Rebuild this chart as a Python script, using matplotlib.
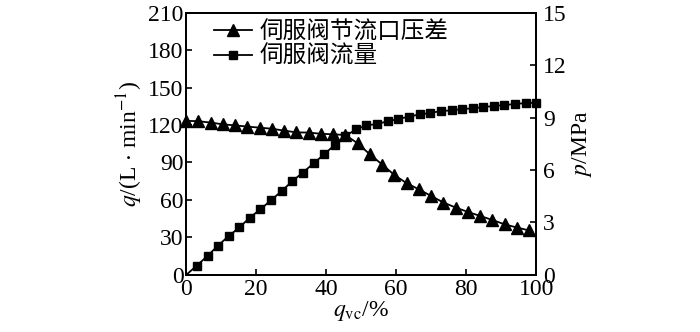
# Servo valve flow and pressure-drop vs opening
import matplotlib.pyplot as plt

plt.rcParams['font.family'] = ['Liberation Serif', 'Noto Sans CJK SC']
plt.rcParams['mathtext.fontset'] = 'stix'

# flow (left axis, L/min)
flow_x = [0, 3.0, 6.1, 9.1, 12.1, 15.2, 18.2, 21.2, 24.2, 27.3, 30.3, 33.3, 36.4,
          39.4, 42.4, 45.5, 48.5, 51.5, 54.5, 57.6, 60.6, 63.6, 66.7, 69.7,
          72.7, 75.8, 78.8, 81.8, 84.8, 87.9, 90.9, 93.9, 97.0, 100.0]
flow_q = [0, 7.4, 15.2, 23.5, 31.0, 38.0, 45.9, 52.5, 59.7, 67.2, 75.0, 81.9, 89.3,
          96.5, 104.0, 111.2, 116.5, 119.7, 120.8, 123.0, 124.8, 126.7,
          128.5, 129.6, 131.2, 131.7, 132.8, 133.3, 134.4, 135.2, 136.0,
          136.8, 137.6, 137.8]

# pressure drop (right axis, MPa)
dp_x = [0, 3.5, 7, 10.5, 14, 17.5, 21, 24.5, 28, 31.5, 35, 38.5, 42, 45.5,
        49, 52.5, 56, 59.5, 63, 66.5, 70, 73.5, 77, 80.5, 84, 87.5, 91, 94.5, 98]
dp_p = [8.81, 8.79, 8.71, 8.61, 8.55, 8.48, 8.42, 8.36, 8.25, 8.15, 8.14,
        8.07, 8.04, 8.00, 7.52, 6.89, 6.31, 5.71, 5.24, 4.89, 4.51, 4.14,
        3.85, 3.60, 3.37, 3.14, 2.89, 2.71, 2.54]

fig = plt.figure(figsize=(7, 3.32), dpi=100)
ax = fig.add_axes([0.266, 0.172, 0.5, 0.79])
ax2 = ax.twinx()

l2, = ax2.plot(dp_x, dp_p, 'k-', marker='^', markersize=8.5, lw=1.3,
               clip_on=False, zorder=3)
l1, = ax.plot(flow_x, flow_q, 'k-', marker='s', markersize=5.5, lw=1.3,
              markevery=list(range(1, len(flow_x))), clip_on=False, zorder=3)

ax.set_xlim(0, 100)
ax.set_ylim(0, 210)
ax2.set_ylim(0, 15)
ax.set_xticks(range(0, 101, 20))
ax.set_yticks(range(0, 211, 30))
ax2.set_yticks(range(0, 16, 3))

for a in (ax, ax2):
    a.tick_params(direction='in', length=4, width=1.2, labelsize=17, pad=2)
    for s in a.spines.values():
        s.set_linewidth(1.3)
ax.tick_params(axis='x', pad=3)
ax2.tick_params(axis='y', pad=5)

ax.set_xlabel(r'$q_{\mathrm{vc}}$/%', fontsize=17, labelpad=-1)
ax.set_ylabel(r'$q$/(L $\cdot$ min$^{-1}$)', fontsize=17, labelpad=2)
ax2.set_ylabel(r'$p$/MPa', fontsize=17, labelpad=2)

ax.legend([l2, l1], ['伺服阀节流口压差', '伺服阀流量'], loc='upper left',
          bbox_to_anchor=(0.02, 1.05), frameon=False,
          handlelength=1.6, handletextpad=0.3, labelspacing=0.05,
          prop={'family': 'Noto Sans CJK SC', 'size': 17})

fig.savefig('out.png', dpi=100)
